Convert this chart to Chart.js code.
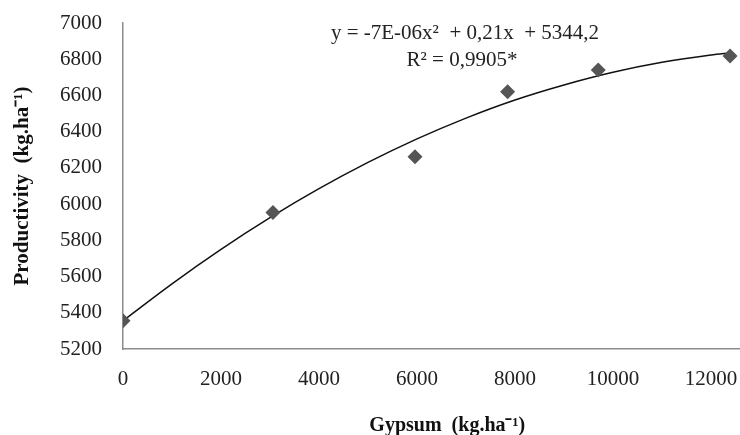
<!DOCTYPE html>
<html>
<head>
<meta charset="utf-8">
<script src="https://cdn.jsdelivr.net/npm/chart.js@4"></script>
<style>
  html, body { margin: 0; padding: 0; background: #fff; overflow: hidden; }
  /* a bit wider than the window: Chart.js keeps ~8px spare on the right */
  #wrap { width: 749px; height: 435px; }
</style>
</head>
<body>
<div id="wrap"><canvas id="chart"></canvas></div>
<script>
// observed points
const gypsumDoses = [0, 3060, 5960, 7850, 9700, 12390];
const productivity = [5356, 5954, 6262, 6620, 6740, 6818];

// trend line
const trendX = [0, 1000, 2000, 3000, 4000, 5000, 6000, 7000, 8000, 9000, 10000, 11000, 12000, 12400];
const trendY = [5356, 5560, 5750, 5925, 6085, 6230, 6360, 6475, 6575, 6658, 6728, 6783, 6823, 6835];

// axis ticks
const xTicks = [0, 2000, 4000, 6000, 8000, 10000, 12000];
const yTicks = [5200, 5400, 5600, 5800, 6000, 6200, 6400, 6600, 6800, 7000];

const equationLines = ['y = -7E-06x\u00B2  + 0,21x  + 5344,2', 'R\u00B2 = 0,9905*'];

const serif = "'Liberation Serif', 'Times New Roman', serif";

const equationPlugin = {
    id: 'equation',
    afterDraw(chart) {
        const ctx = chart.ctx;
        ctx.save();
        ctx.fillStyle = '#222';
        ctx.font = '21px ' + serif;
        ctx.textAlign = 'center';
        ctx.textBaseline = 'middle';
        ctx.fillText(equationLines[0], 465, 33);
        ctx.fillText(equationLines[1], 462, 60);
        ctx.restore();
    }
};

const ctx = document.getElementById('chart').getContext('2d');
new Chart(ctx, {
    type: 'scatter',
    data: {
        datasets: [
            {
                label: 'Trend',
                data: trendX.map((x, i) => ({ x: x, y: trendY[i] })),
                showLine: true,
                borderColor: '#111',
                borderWidth: 1.5,
                pointRadius: 0,
                cubicInterpolationMode: 'monotone',
                order: 2
            },
            {
                label: 'Productivity',
                data: gypsumDoses.map((x, i) => ({ x: x, y: productivity[i] })),
                pointStyle: 'rectRot',
                pointRadius: 7.5,
                backgroundColor: '#555',
                borderColor: '#555',
                borderWidth: 0,
                order: 1
            }
        ]
    },
    options: {
        responsive: true,
        maintainAspectRatio: false,
        animation: false,
        layout: { padding: { top: 23, right: 0, bottom: 0, left: 6 } },
        plugins: {
            legend: { display: false },
            tooltip: { enabled: false }
        },
        scales: {
            x: {
                type: 'linear',
                min: 0,
                max: 12623,
                afterBuildTicks(scale) {
                    scale.ticks = xTicks.map(v => ({ value: v }));
                },
                afterFit(scale) {
                    scale.height = 86;
                    scale.paddingLeft = 0;
                    scale.paddingRight = 0;
                },
                grid: { display: false, drawTicks: false },
                border: { display: true, color: '#8c8c8c', width: 1.5 },
                ticks: {
                    autoSkip: false,
                    padding: 18,
                    color: '#222',
                    font: { family: serif, size: 21 },
                    maxRotation: 0,
                    callback: v => String(v)
                },
                title: {
                    display: true,
                    text: '\u2003\u2002Gypsum  (kg.ha\u207B\u00B9)',
                    color: '#111',
                    font: { family: serif, size: 20, weight: 'bold' },
                    padding: { top: 0, bottom: -3 }
                }
            },
            y: {
                min: 5200,
                max: 7000,
                afterBuildTicks(scale) {
                    scale.ticks = yTicks.map(v => ({ value: v }));
                },
                afterFit(scale) {
                    scale.width = 117;
                    scale.paddingTop = 0;
                    scale.paddingBottom = 0;
                },
                grid: { display: false, drawTicks: false },
                border: { display: true, color: '#8c8c8c', width: 1.5 },
                ticks: {
                    autoSkip: false,
                    padding: 21,
                    color: '#222',
                    font: { family: serif, size: 21 },
                    callback: v => String(v)
                },
                title: {
                    display: true,
                    text: 'Productivity  (kg.ha\u207B\u00B9)',
                    color: '#111',
                    font: { family: serif, size: 21, weight: 'bold' },
                    padding: { top: 4, bottom: 0 }
                }
            }
        }
    },
    plugins: [equationPlugin]
});
</script>
</body>
</html>
